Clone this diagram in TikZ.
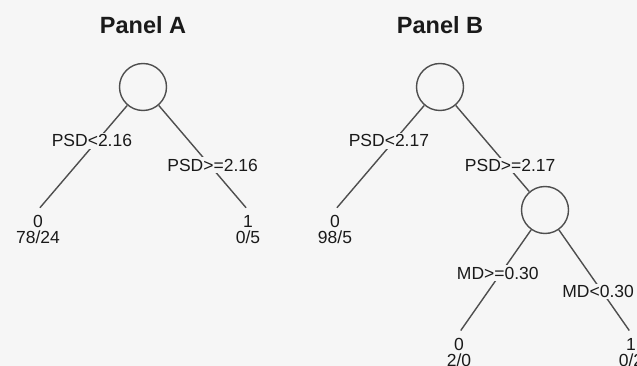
\documentclass[tikz,border=0pt]{standalone}
\usepackage{fontspec}
\setmainfont{Liberation Sans}
\usepackage{xcolor}
\usepackage{tikz}

\definecolor{paper}{HTML}{F6F6F6}
\definecolor{ink}{HTML}{1A1A1A}
\definecolor{wire}{HTML}{4E4E4E}

\begin{document}
\begin{tikzpicture}[
  x=1pt, y=1pt,
  every node/.style={text=ink, font=\fontsize{17.5}{16}\selectfont},
  splitnode/.style={circle, draw=wire, line width=1.4pt, minimum size=47pt, inner sep=0pt},
  leafnode/.style={anchor=north, align=center, inner sep=5pt},
  rulelabel/.style={fill=paper, inner sep=1.5pt},
  paneltitle/.style={font=\fontsize{23.5}{28}\selectfont\bfseries},
  edge from parent/.style={draw=wire, line width=1.4pt, shorten >=3pt},
  level distance=123pt,
  level 1/.style={sibling distance=210pt},
  level 2/.style={sibling distance=172pt}
  ]
  \fill[paper] (0,0) rectangle (637,-366);
  \useasboundingbox (0,0) rectangle (637,-366);

  % Panel A
  \node[paneltitle] (titleA) at (143,-25) {Panel A};
  \node[splitnode] (rootA) at (143,-87) {}
    child[child anchor=north] {node[leafnode] (leafA1) {0\\78/24}
      edge from parent node[rulelabel, pos=0.34, xshift=-5pt] (ruleA1) {PSD<2.16}}
    child[child anchor=north] {node[leafnode] (leafA2) {1\\0/5}
      edge from parent node[rulelabel, pos=0.57, xshift=3pt] (ruleA2) {PSD>=2.16}};

  % Panel B
  \node[paneltitle] (titleB) at (440,-25) {Panel B};
  \node[splitnode] (rootB) at (440,-87) {}
    child[child anchor=north] {node[leafnode] (leafB1) {0\\98/5}
      edge from parent node[rulelabel, pos=0.34, xshift=-5pt] (ruleB1) {PSD<2.17}}
    child {node[splitnode] (splitB) {}
      child[child anchor=north] {node[leafnode] (leafB2) {0\\2/0}
        edge from parent node[rulelabel, pos=0.42, xshift=-3pt] (ruleB2) {MD>=0.30}}
      child[child anchor=north] {node[leafnode] (leafB3) {1\\0/2}
        edge from parent node[rulelabel, pos=0.6, xshift=-4pt] (ruleB3) {MD<0.30}}
      edge from parent[shorten >=0pt] node[rulelabel, pos=0.7, xshift=3pt] (ruleB4) {PSD>=2.17}};
\end{tikzpicture}
\end{document}
